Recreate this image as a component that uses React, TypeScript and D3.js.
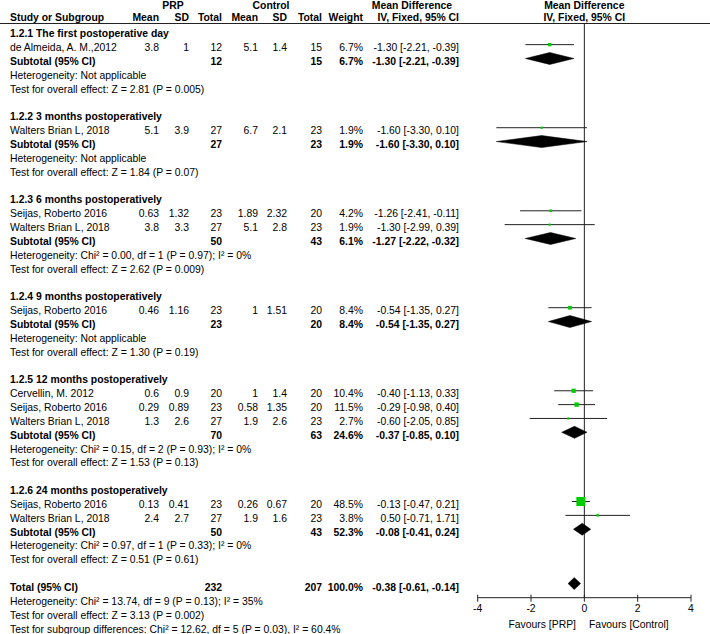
import React from "react";
import * as d3 from "d3";

// ---- data ----
const groupTitles = [
  "1.2.1 The first postoperative day",
  "1.2.2 3 months postoperatively",
  "1.2.3 6 months postoperatively",
  "1.2.4 9 months postoperatively",
  "1.2.5 12 months postoperatively",
  "1.2.6 24 months postoperatively",
];
const studyGroup = [0, 1, 2, 2, 3, 4, 4, 4, 5, 5];
const studyNames = [
  "de Almeida, A. M.,2012",
  "Walters Brian L, 2018",
  "Seijas, Roberto 2016",
  "Walters Brian L, 2018",
  "Seijas, Roberto 2016",
  "Cervellin, M. 2012",
  "Seijas, Roberto 2016",
  "Walters Brian L, 2018",
  "Seijas, Roberto 2016",
  "Walters Brian L, 2018",
];
const prpMean = [3.8, 5.1, 0.63, 3.8, 0.46, 0.6, 0.29, 1.3, 0.13, 2.4];
const prpSD = [1, 3.9, 1.32, 3.3, 1.16, 0.9, 0.89, 2.6, 0.41, 2.7];
const prpN = [12, 27, 23, 27, 23, 20, 23, 27, 23, 27];
const ctlMean = [5.1, 6.7, 1.89, 5.1, 1, 1, 0.58, 1.9, 0.26, 1.9];
const ctlSD = [1.4, 2.1, 2.32, 2.8, 1.51, 1.4, 1.35, 2.6, 0.67, 1.6];
const ctlN = [15, 23, 20, 23, 20, 20, 20, 23, 20, 23];
const studyWeight = [6.7, 1.9, 4.2, 1.9, 8.4, 10.4, 11.5, 2.7, 48.5, 3.8];
const studyMD = [-1.3, -1.6, -1.26, -1.3, -0.54, -0.4, -0.29, -0.6, -0.13, 0.5];
const studyLo = [-2.21, -3.3, -2.41, -2.99, -1.35, -1.13, -0.98, -2.05, -0.47, -0.71];
const studyHi = [-0.39, 0.1, -0.11, 0.39, 0.27, 0.33, 0.4, 0.85, 0.21, 1.71];

const subN1 = [12, 27, 50, 23, 70, 50];
const subN2 = [15, 23, 43, 20, 63, 43];
const subWeight = [6.7, 1.9, 6.1, 8.4, 24.6, 52.3];
const subMD = [-1.3, -1.6, -1.27, -0.54, -0.37, -0.08];
const subLo = [-2.21, -3.3, -2.22, -1.35, -0.85, -0.41];
const subHi = [-0.39, 0.1, -0.32, 0.27, 0.1, 0.24];
const subHet = [
  "Heterogeneity: Not applicable",
  "Heterogeneity: Not applicable",
  "Heterogeneity: Chi² = 0.00, df = 1 (P = 0.97); I² = 0%",
  "Heterogeneity: Not applicable",
  "Heterogeneity: Chi² = 0.15, df = 2 (P = 0.93); I² = 0%",
  "Heterogeneity: Chi² = 0.97, df = 1 (P = 0.33); I² = 0%",
];
const subTest = [
  "Test for overall effect: Z = 2.81 (P = 0.005)",
  "Test for overall effect: Z = 1.84 (P = 0.07)",
  "Test for overall effect: Z = 2.62 (P = 0.009)",
  "Test for overall effect: Z = 1.30 (P = 0.19)",
  "Test for overall effect: Z = 1.53 (P = 0.13)",
  "Test for overall effect: Z = 0.51 (P = 0.61)",
];
const totalN1 = 232;
const totalN2 = 207;
const totalWeight = 100.0;
const totalMD = -0.38;
const totalLo = -0.61;
const totalHi = -0.14;
const totalNotes = [
  "Heterogeneity: Chi² = 13.74, df = 9 (P = 0.13); I² = 35%",
  "Test for overall effect: Z = 3.13 (P = 0.002)",
  "Test for subgroup differences: Chi² = 12.62, df = 5 (P = 0.03), I² = 60.4%",
];
const axisTicks = [-4, -2, 0, 2, 4];
const favourLeft = "Favours [PRP]";
const favourRight = "Favours [Control]";

// ---- layout ----
const W = 710;
const H = 634;
const FONT = "'Liberation Sans', Arial, Helvetica, sans-serif";
const FS = 10.4;
const x = d3.scaleLinear().domain([-4, 4]).range([477.7, 691]);
const rowY = d3.scaleLinear().domain([0, 40]).range([30.8, 584.6]);
const TXT_OFF = 6.4;

const colMean1 = 159;
const colSD1 = 189;
const colN1 = 222;
const colMean2 = 258;
const colSD2 = 287;
const colN2 = 322;
const colW = 363;
const colCI = 459;
const GREEN = "#00cc00";
const LINE = "#222";

type Row =
  | { kind: "title"; i: number; g: number }
  | { kind: "study"; i: number; s: number }
  | { kind: "sub"; i: number; g: number }
  | { kind: "note"; i: number; text: string }
  | { kind: "total"; i: number };

function buildRows(): Row[] {
  const rows: Row[] = [];
  let i = 0;
  groupTitles.forEach((_, g) => {
    rows.push({ kind: "title", i: i++, g });
    studyGroup.forEach((sg, s) => {
      if (sg === g) rows.push({ kind: "study", i: i++, s });
    });
    rows.push({ kind: "sub", i: i++, g });
    rows.push({ kind: "note", i: i++, text: subHet[g] });
    rows.push({ kind: "note", i: i++, text: subTest[g] });
    i++;
  });
  rows.push({ kind: "total", i: i++ });
  totalNotes.forEach((t) => rows.push({ kind: "note", i: i++, text: t }));
  return rows;
}

const fmtCI = (m: number, lo: number, hi: number) =>
  `${m.toFixed(2)} [${lo.toFixed(2)}, ${hi.toFixed(2)}]`;
const fmtW = (w: number) => `${w.toFixed(1)}%`;

function Diamond({ y, m, lo, hi }: { y: number; m: number; lo: number; hi: number }) {
  const h = 6;
  const p = `M${x(lo)},${y} L${x(m)},${y - h} L${x(hi)},${y} L${x(m)},${y + h} Z`;
  return <path d={p} fill="#000" stroke="#000" strokeWidth={0.5} />;
}

export default function App() {
  const rows = buildRows();
  const axisY = 597.7;
  const t = (
    key: string,
    xx: number,
    y: number,
    s: string,
    anchor: "start" | "end" | "middle" = "end",
    bold = false
  ) => (
    <text
      key={key}
      x={xx}
      y={y}
      textAnchor={anchor}
      fontWeight={bold ? "bold" : "normal"}
    >
      {s}
    </text>
  );

  const elems: React.ReactNode[] = [];
  rows.forEach((r, k) => {
    const gy = rowY(r.i);
    const ty = gy + TXT_OFF;
    if (r.kind === "title") {
      elems.push(t(`t${k}`, 10, ty, groupTitles[r.g], "start", true));
    } else if (r.kind === "study") {
      const s = r.s;
      elems.push(t(`a${k}`, 10, ty, studyNames[s], "start"));
      elems.push(t(`b${k}`, colMean1, ty, String(prpMean[s])));
      elems.push(t(`c${k}`, colSD1, ty, String(prpSD[s])));
      elems.push(t(`d${k}`, colN1, ty, String(prpN[s])));
      elems.push(t(`e${k}`, colMean2, ty, String(ctlMean[s])));
      elems.push(t(`f${k}`, colSD2, ty, String(ctlSD[s])));
      elems.push(t(`g${k}`, colN2, ty, String(ctlN[s])));
      elems.push(t(`h${k}`, colW, ty, fmtW(studyWeight[s])));
      elems.push(t(`i${k}`, colCI, ty, fmtCI(studyMD[s], studyLo[s], studyHi[s])));
      const side = Math.max(2.2, 1.3 * Math.sqrt(studyWeight[s]));
      elems.push(
        <line
          key={`l${k}`}
          x1={x(studyLo[s])}
          x2={x(studyHi[s])}
          y1={gy}
          y2={gy}
          stroke={LINE}
          strokeWidth={1}
        />
      );
      elems.push(
        <rect
          key={`r${k}`}
          x={x(studyMD[s]) - side / 2}
          y={gy - side / 2}
          width={side}
          height={side}
          fill={GREEN}
        />
      );
    } else if (r.kind === "sub") {
      const g = r.g;
      elems.push(t(`a${k}`, 10, ty, "Subtotal (95% CI)", "start", true));
      elems.push(t(`d${k}`, colN1, ty, String(subN1[g]), "end", true));
      elems.push(t(`g${k}`, colN2, ty, String(subN2[g]), "end", true));
      elems.push(t(`h${k}`, colW, ty, fmtW(subWeight[g]), "end", true));
      elems.push(t(`i${k}`, colCI, ty, fmtCI(subMD[g], subLo[g], subHi[g]), "end", true));
      elems.push(<Diamond key={`dm${k}`} y={gy} m={subMD[g]} lo={subLo[g]} hi={subHi[g]} />);
    } else if (r.kind === "note") {
      elems.push(t(`n${k}`, 10, ty, r.text, "start"));
    } else if (r.kind === "total") {
      elems.push(t(`a${k}`, 10, ty, "Total (95% CI)", "start", true));
      elems.push(t(`d${k}`, colN1, ty, String(totalN1), "end", true));
      elems.push(t(`g${k}`, colN2, ty, String(totalN2), "end", true));
      elems.push(t(`h${k}`, colW, ty, fmtW(totalWeight), "end", true));
      elems.push(t(`i${k}`, colCI, ty, fmtCI(totalMD, totalLo, totalHi), "end", true));
      elems.push(<Diamond key={`dm${k}`} y={gy - 1} m={totalMD} lo={totalLo} hi={totalHi} />);
    }
  });

  return (
    <svg
      width={W}
      height={H}
      style={{ position: "absolute", left: 0, top: 0, background: "#fff" }}
      fontFamily={FONT}
      fontSize={FS}
      fill="#000"
    >
      <rect x={0} y={0} width={W} height={H} fill="#fff" />
      {/* headers */}
      <g fontWeight="bold">
        <text x={173} y={8.5} textAnchor="middle">PRP</text>
        <text x={271} y={8.5} textAnchor="middle">Control</text>
        <text x={412} y={8.5} textAnchor="middle">Mean Difference</text>
        <text x={584.3} y={8.5} textAnchor="middle">Mean Difference</text>
        <text x={10} y={20.5}>Study or Subgroup</text>
        <text x={colMean1} y={20.5} textAnchor="end">Mean</text>
        <text x={colSD1} y={20.5} textAnchor="end">SD</text>
        <text x={colN1} y={20.5} textAnchor="end">Total</text>
        <text x={colMean2} y={20.5} textAnchor="end">Mean</text>
        <text x={colSD2} y={20.5} textAnchor="end">SD</text>
        <text x={colN2} y={20.5} textAnchor="end">Total</text>
        <text x={colW} y={20.5} textAnchor="end">Weight</text>
        <text x={colCI} y={20.5} textAnchor="end">IV, Fixed, 95% CI</text>
        <text x={584.3} y={20.5} textAnchor="middle">IV, Fixed, 95% CI</text>
      </g>
      <line x1={0} x2={W} y1={23.5} y2={23.5} stroke={LINE} strokeWidth={1} />
      {/* zero line */}
      <line x1={x(0)} x2={x(0)} y1={23.5} y2={axisY} stroke={LINE} strokeWidth={1} />
      {elems}
      {/* axis */}
      <line x1={x(-4)} x2={x(4)} y1={axisY} y2={axisY} stroke={LINE} strokeWidth={1} />
      {axisTicks.map((v) => (
        <g key={`tk${v}`}>
          <line x1={x(v)} x2={x(v)} y1={axisY - 3} y2={axisY + 4} stroke={LINE} strokeWidth={1} />
          <text x={x(v)} y={611.5} textAnchor="middle">{String(v)}</text>
        </g>
      ))}
      <text x={576} y={627.5} textAnchor="end">{favourLeft}</text>
      <text x={589} y={627.5} textAnchor="start">{favourRight}</text>
    </svg>
  );
}
